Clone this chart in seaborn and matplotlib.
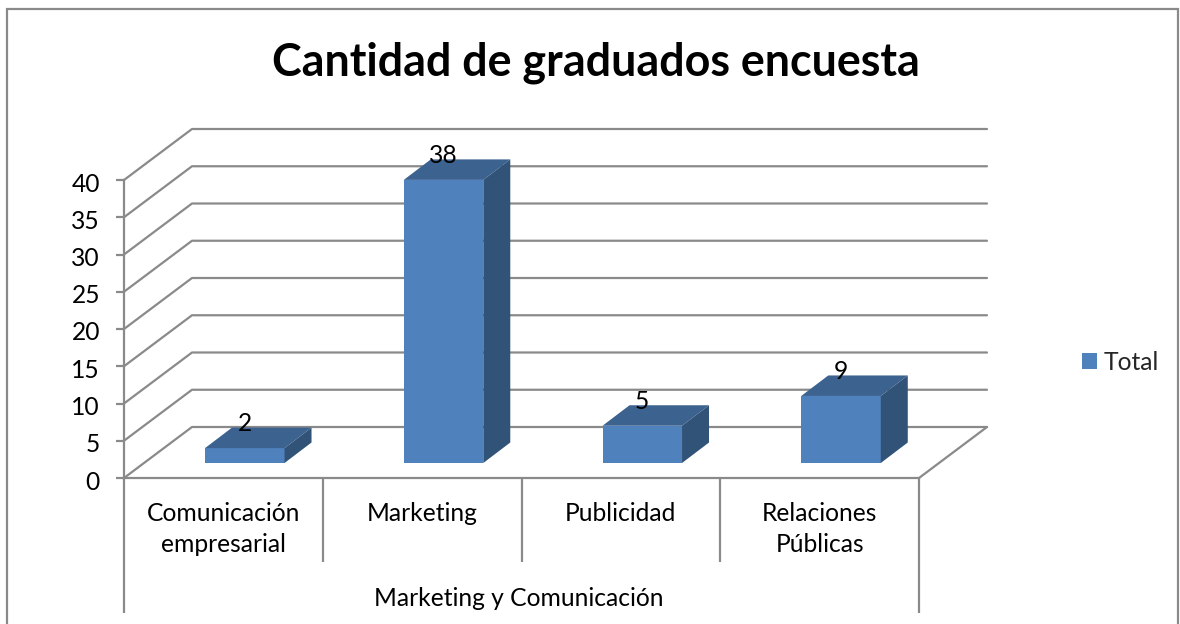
import matplotlib
matplotlib.use("Agg")
import matplotlib.pyplot as plt
from matplotlib.patches import Polygon, Rectangle
from matplotlib.transforms import Affine2D
import pandas as pd
import seaborn as sns

categories = ["Comunicación\nempresarial", "Marketing", "Publicidad", "Relaciones\nPúblicas"]
totals = [2, 38, 5, 9]
y_ticks = [0, 5, 10, 15, 20, 25, 30, 35, 40]
group_label = "Marketing y Comunicación"
title = "Cantidad de graduados encuesta"

GRID = "#8A8A8A"
FRONT = "#4F81BD"
TOP = "#3C6290"
SIDE = "#325378"
FS = 17.7
LW = 1.6

sns.set_theme(style="white")
plt.rcParams["font.family"] = ["Lato", "DejaVu Sans"]

W, H = 1180, 624
fig = plt.figure(figsize=(W / 100, H / 100), dpi=100)
ax = fig.add_axes([124 / W, (H - 478) / H, 795 / W, 298 / H])
ax.patch.set_alpha(0)

df = pd.DataFrame({"cat": categories, "total": totals})
sns.barplot(data=df, x="cat", y="total", color=FRONT, saturation=1, width=0.4,
            label="Total", ax=ax, zorder=3, linewidth=0)
ax.set_xlim(-0.5, 3.5)
ax.set_ylim(0, 40)

# fake 3d, all offsets in data units
wall_dx, wall_dy = 68 / 198.75, 51 / 7.45
bar_dx, bar_dy = 21.4 / 198.75, 15 / 7.45
depth_dx, depth_dy = 27 / 198.75, 20.5 / 7.45

for v in y_ticks:
    ax.plot([-0.5, -0.5 + wall_dx, 3.5 + wall_dx], [v, v + wall_dy, v + wall_dy],
            color=GRID, lw=LW, clip_on=False, zorder=1)
ax.plot([3.5, 3.5 + wall_dx], [0, wall_dy], color=GRID, lw=LW, clip_on=False, zorder=1)

for patch, val in zip(ax.patches, totals):
    patch.set_x(patch.get_x() + bar_dx)
    patch.set_y(bar_dy)
    patch.set_clip_on(False)
    x0 = patch.get_x()
    x1 = x0 + patch.get_width()
    y0 = patch.get_y()
    y1 = y0 + patch.get_height()
    ax.add_patch(Polygon([(x0, y1), (x1, y1), (x1 + depth_dx, y1 + depth_dy), (x0 + depth_dx, y1 + depth_dy)],
                         facecolor=TOP, lw=0, clip_on=False, zorder=3))
    ax.add_patch(Polygon([(x1, y0), (x1 + depth_dx, y0 + depth_dy), (x1 + depth_dx, y1 + depth_dy), (x1, y1)],
                         facecolor=SIDE, lw=0, clip_on=False, zorder=3))
    ax.text((x0 + x1) / 2, y1 + depth_dy + 0.55, str(val), ha="center", va="center",
            fontsize=FS, color="black", zorder=5, clip_on=False)

sns.despine(ax=ax, top=True, right=True)
for side in ["left", "bottom"]:
    ax.spines[side].set_color(GRID)
    ax.spines[side].set_linewidth(LW)

ax.set_yticks(y_ticks)
ax.tick_params(axis="y", length=5.8, width=LW, color=GRID, pad=11.5, labelsize=FS, labelcolor="black", left=True)
for lab in ax.get_yticklabels():
    lab.set_transform(lab.get_transform() + Affine2D().translate(0, -2))
ax.set_xticks(range(len(categories)))
ax.set_xticklabels(categories, linespacing=1.38)
ax.tick_params(axis="x", length=0, pad=17.5, labelsize=FS, labelcolor="black")
ax.set_xlabel("")
ax.set_ylabel("")

# two level category axis
trans = ax.get_xaxis_transform()
ax.vlines([0.5, 1.5, 2.5], 0, -84 / 298, transform=trans, color=GRID, lw=LW, clip_on=False)
ax.vlines([-0.5, 3.5], 0, -135 / 298, transform=trans, color=GRID, lw=LW, clip_on=False)
ax.text(1.488, -120 / 298, group_label, transform=trans, ha="center", va="center", fontsize=FS, color="black")

leg = ax.legend(loc="center left", bbox_to_anchor=(1082 / W, (H - 362) / H), bbox_transform=fig.transFigure,
                frameon=False, fontsize=FS, handlelength=0.61, handleheight=0.61, handletextpad=0.28,
                borderpad=0, borderaxespad=0)

fig.text(595.5 / W, (H - 62.5) / H, title, ha="center", va="center", fontsize=32.3, fontweight="bold", color="black")
fig.add_artist(Rectangle((6.5 / W, -0.1), (1178 - 6.5) / W, 0.1 + (H - 9) / H, transform=fig.transFigure,
                         fill=False, edgecolor=GRID, lw=LW))

fig.savefig("out.png")
